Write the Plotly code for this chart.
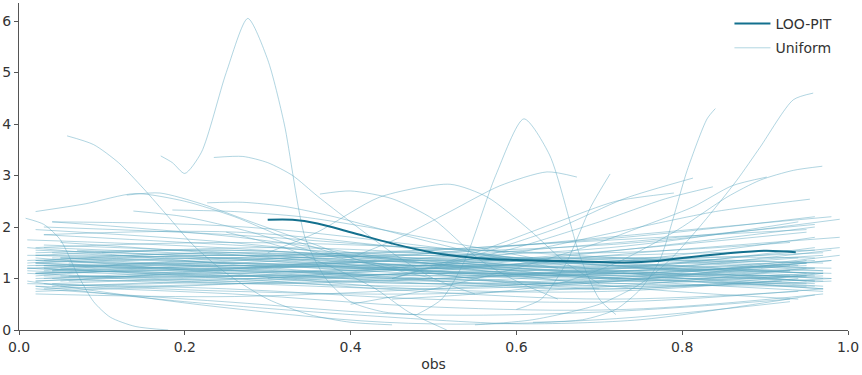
import plotly.graph_objects as go

# ---- LOO-PIT curve ----
loo_x = [0.300, 0.33, 0.36, 0.40, 0.45, 0.50, 0.55, 0.60, 0.65, 0.70, 0.73, 0.77, 0.80, 0.85, 0.90, 0.937]
loo_y = [2.14, 2.14, 2.07, 1.90, 1.68, 1.50, 1.40, 1.36, 1.34, 1.32, 1.31, 1.34, 1.40, 1.48, 1.54, 1.51]

# ---- generic uniform KDE curves: start, end, five evenly spaced knot values ----
unif_x0 = [0.01, 0.02, 0.01, 0.03, 0.02, 0.04, 0.01, 0.02, 0.03, 0.05,
           0.02, 0.01, 0.06, 0.02, 0.03, 0.04, 0.01, 0.02, 0.03, 0.05,
           0.01, 0.02, 0.04, 0.02, 0.03, 0.07, 0.02, 0.01, 0.03, 0.02,
           0.05, 0.02, 0.04, 0.01, 0.03, 0.02, 0.06, 0.02, 0.03, 0.01,
           0.04, 0.02, 0.03, 0.05, 0.02, 0.01, 0.03, 0.04, 0.02, 0.03,
           0.02, 0.10, 0.05, 0.02, 0.01, 0.03, 0.04, 0.02, 0.06, 0.02,
           0.03, 0.02, 0.04, 0.01, 0.05, 0.02, 0.03, 0.02, 0.04, 0.01,
           0.06, 0.02, 0.03, 0.02, 0.05]
unif_x1 = [0.96, 0.97, 0.95, 0.98, 0.96, 0.97, 0.94, 0.99, 0.95, 0.93,
           0.96, 0.92, 0.97, 0.98, 0.96, 0.95, 0.97, 0.93, 0.99, 0.96,
           0.95, 0.97, 0.94, 0.96, 0.98, 0.95, 0.93, 0.97, 0.96, 0.95,
           0.97, 0.94, 0.99, 0.93, 0.97, 0.95, 0.96, 0.98, 0.94, 0.97,
           0.96, 0.95, 0.98, 0.93, 0.97, 0.96, 0.95, 0.97, 0.99, 0.94,
           0.96, 0.97, 0.95, 0.97, 0.98, 0.93, 0.96, 0.95, 0.97, 0.98,
           0.96, 0.94, 0.97, 0.95, 0.98, 0.96, 0.93, 0.97, 0.95, 0.96,
           0.98, 0.95, 0.97, 0.94, 0.96]
unif_knots = [
    [1.25, 1.30, 1.15, 1.05, 1.20], [1.10, 1.20, 1.25, 1.10, 0.95], [1.45, 1.40, 1.20, 1.10, 1.30],
    [0.80, 0.90, 1.00, 1.15, 1.10], [1.95, 1.70, 1.30, 1.00, 0.85], [2.10, 2.00, 1.60, 1.10, 0.80],
    [1.75, 1.60, 1.35, 1.20, 1.40], [0.75, 0.90, 1.15, 1.50, 1.80], [1.35, 1.50, 1.30, 1.00, 0.90],
    [1.20, 1.05, 0.90, 0.95, 1.25], [0.95, 1.15, 1.40, 1.70, 2.05], [1.60, 1.30, 1.00, 0.80, 0.95],
    [1.30, 1.40, 1.20, 0.95, 0.75], [0.70, 0.65, 0.80, 1.00, 1.35], [1.85, 1.90, 1.55, 1.25, 1.05],
    [1.15, 1.25, 1.35, 1.30, 1.10], [0.90, 0.80, 0.60, 0.55, 0.80], [1.50, 1.55, 1.40, 1.15, 1.05],
    [1.05, 1.00, 0.90, 1.05, 1.45], [1.40, 1.20, 1.05, 1.20, 1.60], [1.20, 1.35, 1.45, 1.25, 0.95],
    [0.85, 0.70, 0.45, 0.40, 0.70], [2.10, 1.80, 1.30, 0.85, 0.60], [1.30, 1.15, 1.20, 1.55, 2.00],
    [1.00, 1.20, 1.50, 1.85, 2.20], [1.55, 1.35, 1.10, 0.90, 0.85], [0.80, 0.55, 0.30, 0.35, 0.60],
    [1.10, 0.95, 0.85, 0.95, 1.10], [1.65, 1.50, 1.25, 1.35, 1.80], [1.25, 1.25, 1.20, 1.15, 1.25],
    [0.95, 1.20, 1.40, 1.35, 1.15], [1.40, 1.10, 0.80, 0.75, 1.00], [1.00, 0.90, 1.00, 1.25, 1.60],
    [0.95, 0.45, 0.13, 0.20, 0.55], [1.20, 1.30, 1.15, 1.00, 1.05], [1.55, 1.45, 1.55, 1.75, 1.95],
    [1.05, 1.05, 1.20, 1.40, 1.40], [1.35, 1.20, 0.95, 0.85, 1.00], [1.85, 1.65, 1.45, 1.60, 2.10],
    [1.15, 1.05, 1.10, 1.20, 1.10], [0.85, 0.95, 1.10, 1.05, 0.90], [1.45, 1.55, 1.35, 1.10, 1.30],
    [1.25, 1.10, 0.95, 1.15, 1.55], [1.70, 1.45, 1.15, 1.00, 1.15], [1.00, 1.10, 1.20, 1.35, 1.30],
    [1.30, 1.45, 1.30, 1.10, 0.95], [0.90, 0.75, 0.70, 0.85, 1.20], [1.40, 1.30, 1.20, 1.25, 1.45],
    [1.10, 1.30, 1.50, 1.70, 2.15], [1.20, 1.00, 0.75, 0.60, 0.75], [1.60, 1.70, 1.60, 1.40, 1.20],
    [1.50, 1.60, 1.45, 1.20, 1.00], [1.05, 0.90, 0.80, 0.95, 1.35], [1.35, 1.25, 1.15, 1.05, 0.85],
    [1.20, 1.05, 1.00, 1.10, 1.00], [2.00, 1.85, 1.60, 1.50, 1.70], [1.15, 1.35, 1.55, 1.80, 2.20],
    [1.30, 1.40, 1.25, 1.10, 1.05], [0.95, 1.00, 1.10, 1.00, 0.80], [1.10, 1.15, 1.00, 0.85, 0.95],
    [1.25, 1.20, 1.30, 1.45, 1.55], [1.05, 1.25, 1.15, 0.95, 1.05], [1.50, 1.35, 1.25, 1.35, 1.50],
    [1.20, 1.10, 1.25, 1.40, 1.30], [0.85, 1.00, 1.20, 1.25, 1.20], [1.45, 1.30, 1.10, 1.15, 1.35],
    [1.15, 1.40, 1.50, 1.30, 1.15], [1.30, 1.15, 0.90, 0.80, 1.10], [0.90, 1.05, 1.25, 1.55, 1.90],
    [1.35, 1.45, 1.40, 1.25, 1.10], [1.25, 1.15, 1.05, 1.10, 1.35], [0.95, 1.05, 1.00, 0.90, 1.05],
    [1.60, 1.45, 1.30, 1.20, 1.15], [1.10, 1.20, 1.35, 1.40, 1.25], [1.40, 1.50, 1.35, 1.15, 0.95],
]

# ---- distinctive uniform curves with their own x knots ----
special_x = [
    [0.171, 0.185, 0.20, 0.22, 0.25, 0.276, 0.30, 0.32, 0.345, 0.37, 0.40, 0.44, 0.48],
    [0.058, 0.09, 0.12, 0.15, 0.18, 0.21, 0.25, 0.30, 0.35, 0.40, 0.45],
    [0.008, 0.03, 0.05, 0.07, 0.09, 0.11, 0.14, 0.18],
    [0.235, 0.27, 0.30, 0.33, 0.36, 0.40, 0.45, 0.50, 0.55],
    [0.02, 0.08, 0.14, 0.20, 0.26, 0.32, 0.40, 0.50, 0.60, 0.70],
    [0.13, 0.17, 0.22, 0.28, 0.35, 0.42, 0.50],
    [0.363, 0.40, 0.45, 0.50, 0.556, 0.60, 0.65],
    [0.30, 0.36, 0.435, 0.52, 0.565, 0.616, 0.66, 0.70],
    [0.48, 0.51, 0.538, 0.575, 0.609, 0.64, 0.677, 0.70, 0.72],
    [0.60, 0.63, 0.66, 0.69, 0.713],
    [0.62, 0.68, 0.72, 0.75, 0.773, 0.806, 0.83, 0.84],
    [0.55, 0.62, 0.70, 0.75, 0.785, 0.825, 0.866, 0.894, 0.934, 0.958],
    [0.45, 0.55, 0.65, 0.72, 0.794, 0.854, 0.894, 0.934, 0.969],
    [0.40, 0.50, 0.60, 0.70, 0.75, 0.813, 0.86, 0.902],
    [0.30, 0.45, 0.60, 0.72, 0.84, 0.954],
    [0.45, 0.55, 0.653, 0.73, 0.813],
    [0.50, 0.60, 0.70, 0.78, 0.837],
    [0.45, 0.55, 0.65, 0.72, 0.79],
    [0.40, 0.46, 0.52, 0.58, 0.637, 0.673],
    [0.138, 0.20, 0.28, 0.36, 0.45, 0.55, 0.65],
    [0.185, 0.26, 0.34, 0.42, 0.52, 0.62],
    [0.227, 0.27, 0.32, 0.38, 0.45, 0.55, 0.65],
    [0.25, 0.32, 0.38, 0.43, 0.47, 0.516],
    [0.02, 0.20, 0.40, 0.60, 0.75, 0.96],
]
special_y = [
    [3.38, 3.25, 3.04, 3.45, 5.00, 6.05, 5.25, 4.00, 1.80, 1.00, 0.55, 0.35, 0.30],
    [3.77, 3.60, 3.25, 2.75, 2.20, 1.65, 1.10, 0.60, 0.30, 0.15, 0.10],
    [2.17, 2.05, 1.75, 1.10, 0.55, 0.25, 0.07, 0.00],
    [3.35, 3.37, 3.25, 3.00, 2.60, 2.10, 1.50, 1.00, 0.70],
    [2.30, 2.45, 2.65, 2.50, 2.20, 1.80, 1.40, 1.10, 0.90, 0.80],
    [2.62, 2.66, 2.45, 2.10, 1.70, 1.30, 1.00],
    [2.64, 2.70, 2.55, 2.15, 1.36, 0.95, 0.60],
    [1.50, 1.90, 2.58, 2.83, 2.58, 1.94, 1.30, 0.90],
    [0.30, 0.60, 1.36, 3.00, 4.10, 3.40, 1.42, 0.60, 0.30],
    [0.40, 0.60, 1.30, 2.40, 3.03],
    [0.15, 0.20, 0.40, 0.80, 1.36, 3.10, 4.10, 4.30],
    [0.10, 0.20, 0.50, 0.90, 1.36, 2.08, 2.91, 3.55, 4.47, 4.60],
    [0.60, 0.70, 0.90, 1.30, 1.94, 2.58, 2.91, 3.10, 3.18],
    [0.50, 0.80, 1.20, 1.70, 2.00, 2.39, 2.80, 2.97],
    [1.00, 1.20, 1.50, 1.90, 2.30, 2.54],
    [1.00, 1.45, 2.00, 2.55, 2.95],
    [1.20, 1.60, 2.10, 2.55, 2.78],
    [1.00, 1.50, 2.10, 2.50, 2.66],
    [1.40, 1.80, 2.30, 2.80, 3.07, 2.97],
    [2.31, 2.20, 1.90, 1.50, 1.20, 1.00, 0.90],
    [2.33, 2.30, 2.20, 2.00, 1.70, 1.40],
    [2.47, 2.48, 2.40, 2.20, 1.90, 1.50, 1.20],
    [1.90, 1.60, 1.20, 0.80, 0.35, 0.00],
    [0.85, 0.55, 0.30, 0.12, 0.20, 0.68],
]

x_ticks = [0.0, 0.2, 0.4, 0.6, 0.8, 1.0]
y_ticks = [0, 1, 2, 3, 4, 5, 6]

LOO_COLOR = "#13708e"
UNIF_COLOR = "rgba(92,168,192,0.48)"
FONT = "DejaVu Sans"

fig = go.Figure()

first = True
for x0, x1, ks in zip(unif_x0, unif_x1, unif_knots):
    n = len(ks)
    xs = [x0 + (x1 - x0) * i / (n - 1) for i in range(n)]
    fig.add_trace(go.Scatter(x=xs, y=ks, mode="lines", name="Uniform",
                             line=dict(color=UNIF_COLOR, width=1, shape="spline", smoothing=1.0),
                             legendgroup="u", showlegend=first, legendrank=2, hoverinfo="skip"))
    first = False

for xs, ys in zip(special_x, special_y):
    fig.add_trace(go.Scatter(x=xs, y=ys, mode="lines", name="Uniform",
                             line=dict(color=UNIF_COLOR, width=1, shape="spline", smoothing=0.7),
                             legendgroup="u", showlegend=False, hoverinfo="skip"))

fig.add_trace(go.Scatter(x=loo_x, y=loo_y, mode="lines", name="LOO-PIT",
                         line=dict(color=LOO_COLOR, width=2, shape="spline", smoothing=1.0),
                         legendrank=1))

axis_common = dict(showline=True, linecolor="#555555", linewidth=1, ticks="outside",
                   ticklen=4, tickcolor="#555555", showgrid=False, zeroline=False,
                   tickfont=dict(family=FONT, size=14, color="#333333"), automargin=False)

fig.update_layout(
    width=862, height=375,
    margin=dict(l=19, r=14, t=3, b=45),
    paper_bgcolor="white", plot_bgcolor="white",
    font=dict(family=FONT, size=14, color="#333333"),
    xaxis=dict(range=[0, 1.0], tickvals=x_ticks, ticktext=[f"{v:.1f}" for v in x_ticks],
               title=dict(text="obs", font=dict(family=FONT, size=14, color="#333333"), standoff=5),
               **axis_common),
    yaxis=dict(range=[0, 6.35], tickvals=y_ticks, **axis_common),
    legend=dict(x=0.857, xanchor="left", y=1.0 - 5 / 327, yanchor="top", bgcolor="rgba(0,0,0,0)",
                font=dict(family=FONT, size=14, color="#333333"), tracegroupgap=3, itemwidth=36),
    showlegend=True,
)

fig.write_html("out.html", config={"displayModeBar": False},
               post_script="document.body.style.margin='0';")
